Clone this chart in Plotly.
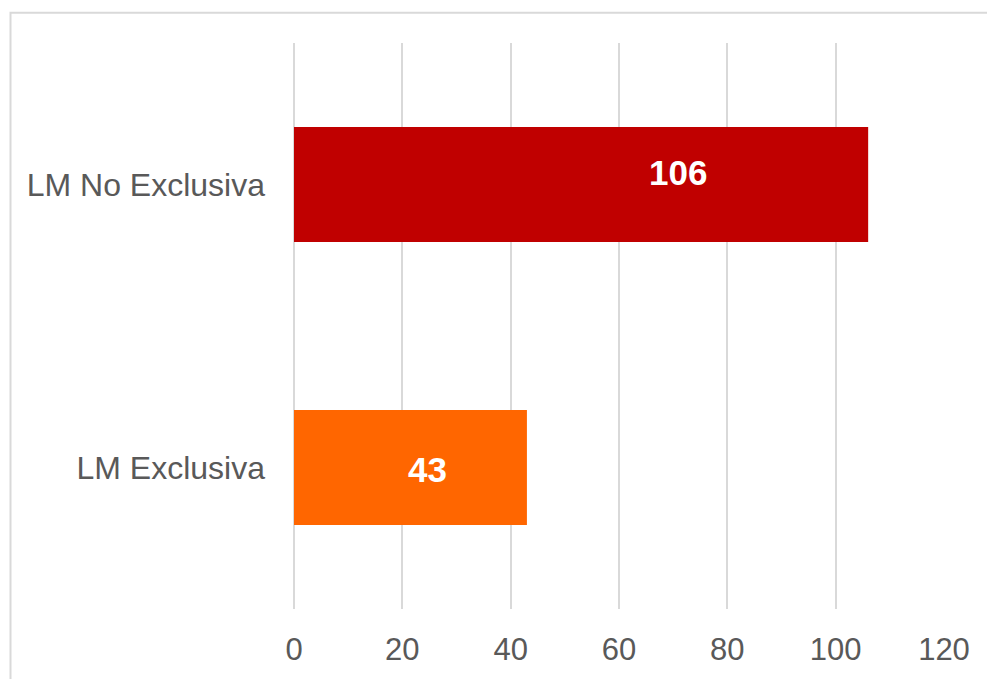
import plotly.graph_objects as go

# Data
categories = ["LM Exclusiva", "LM No Exclusiva"]
values = [43, 106]
bar_colors = ["#FF6600", "#C00000"]
x_ticks = [0, 20, 40, 60, 80, 100, 120]

# Where the value labels sit along each bar (fraction of the bar length)
label_frac = [0.575, 0.669]
label_yshift = [-2, 12]

W, H = 987, 679
L, R, T, B = 294, 43, 43, 65
plot_w = W - L - R
plot_h = H - T - B

fig = go.Figure()
fig.add_trace(go.Bar(
    y=categories,
    x=values,
    orientation="h",
    marker=dict(color=bar_colors, line=dict(width=0)),
    hoverinfo="skip",
))

for cat, val, frac, ys in zip(categories, values, label_frac, label_yshift):
    fig.add_annotation(
        x=val * frac, y=cat, text=f"<b>{val}</b>", showarrow=False,
        yshift=ys,
        font=dict(family="Liberation Sans, Arial, sans-serif", size=35, color="white"),
    )

# Light frame around the chart area
fig.add_shape(
    type="rect", xref="paper", yref="paper",
    x0=(10.5 - L) / plot_w, x1=(W + 20 - L) / plot_w,
    y0=-(B + 20) / plot_h, y1=(H - B - 12.5) / plot_h,
    line=dict(color="#D9D9D9", width=2), fillcolor="rgba(0,0,0,0)",
    layer="below",
)

fig.update_layout(
    width=W, height=H,
    margin=dict(l=L, r=R, t=T, b=B, pad=0),
    paper_bgcolor="white", plot_bgcolor="white",
    bargap=0.594,
    showlegend=False,
    font=dict(family="Liberation Sans, Arial, sans-serif", color="#595959"),
    xaxis=dict(
        range=[0, 120], tickvals=x_ticks,
        showgrid=True, gridcolor="#D9D9D9", gridwidth=2,
        zeroline=True, zerolinecolor="#D9D9D9", zerolinewidth=2,
        showline=False, ticks="",
        tickfont=dict(size=31, color="#595959"),
        ticklabelstandoff=19,
        fixedrange=True,
    ),
    yaxis=dict(
        showgrid=False, zeroline=False, showline=False, ticks="",
        tickfont=dict(size=32, color="#595959"),
        ticklabelstandoff=28,
        fixedrange=True,
    ),
)

fig.write_html("out.html")
